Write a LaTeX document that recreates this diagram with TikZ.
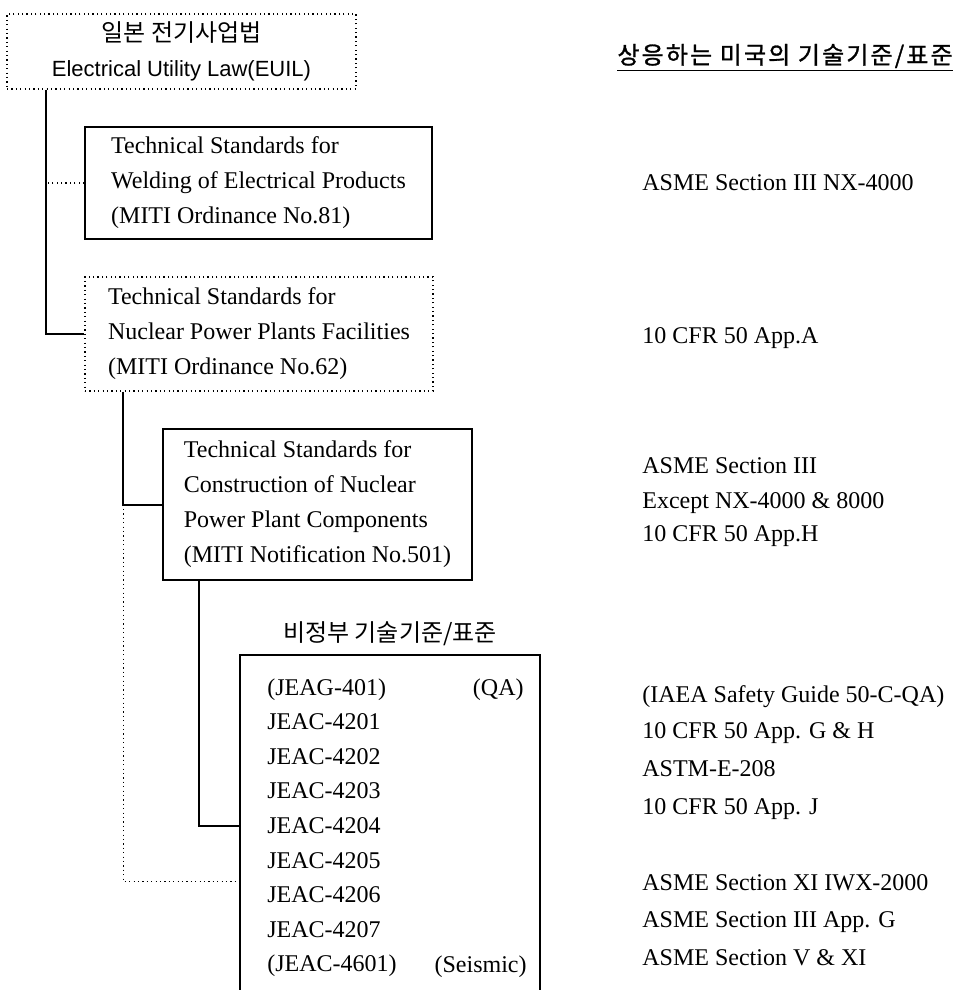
\documentclass[tikz,border=0pt]{standalone}
\usepackage{fontspec}
\setmainfont{Liberation Serif}
\newfontfamily\krfont{Noto Sans CJK KR}
\newfontfamily\krwide{Noto Sans CJK KR}[LetterSpace=9,FakeBold=1.2]
\newfontfamily\lawfont{Liberation Sans}
\usetikzlibrary{positioning,calc}

\tikzset{
  solidbox/.style={draw,line width=0.9pt,align=left,inner sep=0pt},
  dotbox/.style={draw,line width=0.6pt,dash pattern=on 0.6pt off 1.6pt,align=left,inner sep=0pt},
  link/.style={line width=1pt},
  dotlink/.style={line width=0.6pt,dash pattern=on 0.6pt off 1.6pt},
  entry/.style={anchor=base west,inner sep=0pt},
  note/.style={anchor=base east,inner sep=0pt},
}

\begin{document}
\begin{tikzpicture}[x=0.5pt,y=-0.5pt,every node/.style={font=\fontsize{12}{17.5}\selectfont}]
\useasboundingbox (0,0) rectangle (961,990);

% left column: the ordinance chain
\node[dotbox,align=center,minimum width=174.5pt,minimum height=37.5pt] (euil) at (181.5,51.5)
  {{\krfont 일본 전기사업법}\\{\lawfont\fontsize{11}{17.5}\selectfont Electrical Utility Law(EUIL)}};
\node[solidbox,minimum width=173.5pt,minimum height=56pt] (weld) at (258.5,183)
  {Technical Standards for\\Welding of Electrical Products\\(MITI Ordinance No.81)};
\node[dotbox,minimum width=174pt,minimum height=57pt] (fac) at (259,334)
  {Technical Standards for\\Nuclear Power Plants Facilities\\(MITI Ordinance No.62)};
\node[solidbox,minimum width=154.5pt,minimum height=75.5pt] (cons) at (317.5,504.5)
  {Technical Standards for\\Construction of Nuclear\\Power Plant Components\\(MITI Notification No.501)};
\node[font=\krfont\fontsize{12}{14}\selectfont,inner sep=0pt] (ngo) at (390,634) {비정부 기술기준/표준};

% open box of the private codes
\node[minimum width=150pt,minimum height=167.5pt,inner sep=0pt] (jeac) at (390,822.5) {};
\draw[link] (jeac.south west) -- (jeac.north west) -- (jeac.north east) -- (jeac.south east);
\foreach \name/\txt [count=\i from 0] in {j1/{(JEAG-401)},j2/{JEAC-4201},j3/{JEAC-4202},j4/{JEAC-4203},
    j5/{JEAC-4204},j6/{JEAC-4205},j7/{JEAC-4206},j8/{JEAC-4207},j9/{(JEAC-4601)}}
  \node[entry] (\name) at (267,{695+34.6*\i}) {\txt};
\node[note] (qa) at (524,695) {(QA)};
\node[note] (seismic) at (527,972) {(Seismic)};

% connectors
\coordinate (trunkA) at ($(euil.south west)+(40,0)$);
\coordinate (trunkB) at ($(fac.south west)+(39,0)$);
\coordinate (trunkC) at ($(cons.south west)+(37,0)$);
\coordinate (dotend) at ($(jeac.north west)+(0,227)$);
\draw[link] (trunkA) |- (fac.west);
\draw[dotlink] (weld.west) -- (weld.west -| trunkA);
\draw[link] (trunkB) |- (cons.west);
\draw[dotlink] (cons.west -| trunkB) |- (dotend);
\draw[link] (trunkC) |- (j5.west -| jeac.west);

% right column: US counterparts
\node[anchor=west,inner sep=0pt,font=\krwide\fontsize{12}{14}\selectfont] (title) at (617,56) {상응하는 미국의 기술기준/표준};
\draw[line width=0.9pt] ($(title.south west)+(0,2)$) -- ($(title.south east)+(0,2)$);
\node[entry] (nx) at (642,191) {ASME Section III NX-4000};
\node[entry] (appA) at (642,343) {10 CFR 50 App.A};
\node[entry] (sec3) at (642,473) {ASME Section III};
\node[entry] (except) at (642,508) {Except NX-4000 \& 8000};
\node[entry] (appH) at (642,541) {10 CFR 50 App.H};
\node[entry] (iaea) at (642,702) {(IAEA Safety Guide 50-C-QA)};
\node[entry] (appGH) at (642,738) {10 CFR 50 App. G \& H};
\node[entry] (astm) at (642,776) {ASTM-E-208};
\node[entry] (appJ) at (642,814) {10 CFR 50 App. J};
\node[entry] (iwx) at (642,890) {ASME Section XI IWX-2000};
\node[entry] (sec3G) at (642,927) {ASME Section III App. G};
\node[entry] (sec5) at (642,965) {ASME Section V \& XI};
\end{tikzpicture}
\end{document}
